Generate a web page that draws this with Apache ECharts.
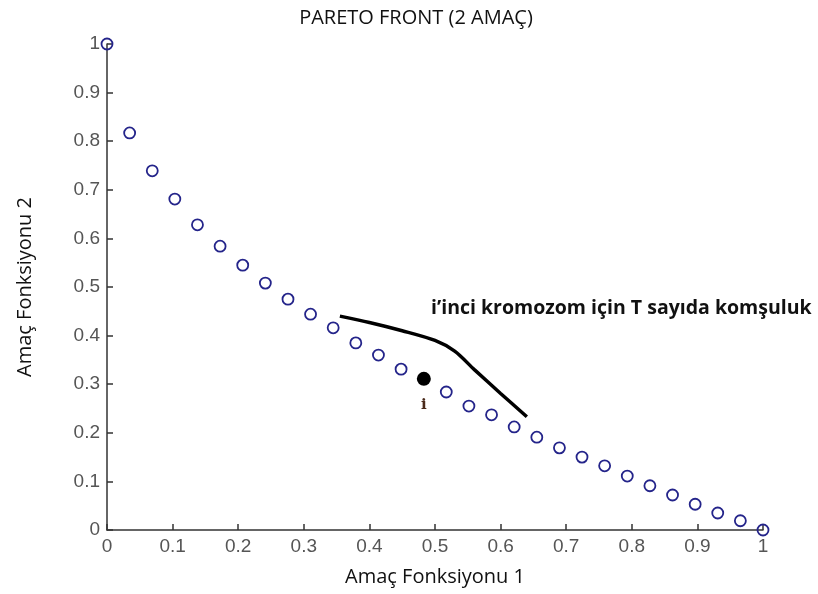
<html>
<head>
    <meta charset="utf-8">
    <title>Pareto Front</title>
    <script src="https://cdn.jsdelivr.net/npm/echarts@6/dist/echarts.min.js"></script>
</head>
<body style="margin:0;">
<div id="chart" style="width: 818px; height: 594px;"></div>
<script type="text/javascript">
    // pareto front points (amac 1, amac 2)
    var frontX = [0, 0.0345, 0.069, 0.1034, 0.1379, 0.1724, 0.2069, 0.2414, 0.2759, 0.3103,
                  0.3448, 0.3793, 0.4138, 0.4483, 0.5172, 0.5517, 0.5862, 0.6207,
                  0.6552, 0.6897, 0.7241, 0.7586, 0.7931, 0.8276, 0.8621, 0.8966, 0.931, 0.9655, 1];
    var frontY = [1, 0.817, 0.739, 0.681, 0.628, 0.584, 0.545, 0.508, 0.475, 0.444,
                  0.416, 0.385, 0.360, 0.331, 0.284, 0.255, 0.237, 0.212,
                  0.191, 0.169, 0.150, 0.132, 0.111, 0.091, 0.072, 0.053, 0.035, 0.019, 0];
    // i'inci kromozom
    var chromX = [0.483];
    var chromY = [0.311];
    // komsuluk egrisi
    var curveX = [0.355, 0.40, 0.45, 0.50, 0.53, 0.56, 0.60, 0.64];
    var curveY = [0.440, 0.427, 0.410, 0.390, 0.368, 0.330, 0.281, 0.233];

    function zip(a, b) {
        var out = [];
        for (var i = 0; i < a.length; i++) {
            out.push([a[i], b[i]]);
        }
        return out;
    }

    var myChart = echarts.init(document.getElementById('chart'));

    var axisCommon = {
        type: 'value',
        min: 0,
        max: 1,
        interval: 0.1,
        nameLocation: 'middle',
        nameTextStyle: {
            fontFamily: 'Open Sans',
            fontSize: 20,
            color: '#111'
        },
        axisLine: { show: true, lineStyle: { color: '#333', width: 1.5 } },
        axisTick: { show: true, inside: true, length: 6, lineStyle: { color: '#333', width: 1.5 } },
        axisLabel: {
            fontFamily: 'Liberation Sans',
            fontSize: 19,
            color: '#555'
        },
        splitLine: { show: false }
    };

    var option = {
        backgroundColor: '#fff',
        animation: false,
        title: {
            text: 'PARETO FRONT (2 AMAÇ)',
            left: 411,
            top: 3,
            textAlign: 'center',
            textStyle: {
                fontFamily: 'Open Sans',
                fontSize: 20,
                fontWeight: 'normal',
                color: '#111'
            }
        },
        graphic: [{
            type: 'text',
            left: 431,
            top: 298,
            style: {
                text: 'i’inci kromozom için T sayıda komşuluk',
                fontFamily: 'Open Sans',
                fontSize: 19.5,
                fontWeight: 'bold',
                fill: '#111'
            }
        }],
        grid: {
            left: 107,
            right: 55,
            top: 44,
            bottom: 64
        },
        xAxis: echarts.util.merge({
            name: 'Amaç Fonksiyonu 1',
            nameGap: 37,
            axisLabel: { margin: 7 }
        }, axisCommon),
        yAxis: echarts.util.merge({
            name: 'Amaç Fonksiyonu 2',
            nameGap: 72,
            axisLabel: { margin: 7 }
        }, axisCommon),
        series: [
            {
                type: 'scatter',
                data: zip(frontX, frontY),
                symbol: 'circle',
                symbolSize: 11,
                itemStyle: {
                    color: 'rgba(255,255,255,0)',
                    borderColor: '#24248a',
                    borderWidth: 1.8,
                    opacity: 1
                },
                z: 3
            },
            {
                type: 'scatter',
                data: zip(chromX, chromY),
                symbol: 'circle',
                symbolSize: 14,
                itemStyle: { color: '#000', opacity: 1 },
                label: {
                    show: true,
                    position: 'bottom',
                    distance: 12,
                    formatter: 'i',
                    fontFamily: 'DejaVu Serif',
                    fontWeight: 'bold',
                    fontSize: 15,
                    color: '#4a2a1a'
                },
                z: 4
            },
            {
                type: 'line',
                data: zip(curveX, curveY),
                smooth: 0.3,
                showSymbol: false,
                lineStyle: { color: '#000', width: 3.5 },
                z: 2
            }
        ]
    };

    myChart.setOption(option);
</script>
</body>
</html>
